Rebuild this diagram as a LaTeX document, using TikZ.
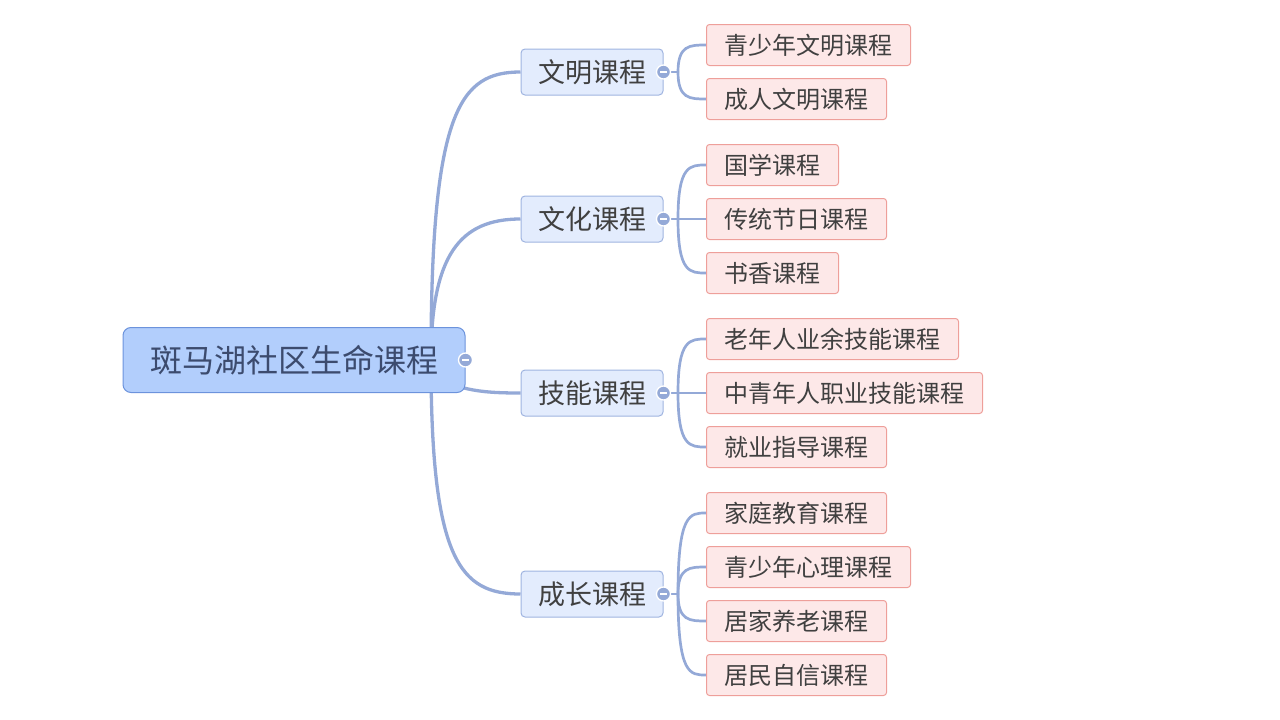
\documentclass[tikz,border=0pt]{standalone}
\usepackage{fontspec}
\setmainfont{Noto Sans CJK SC}
\usetikzlibrary{backgrounds}
\definecolor{rootfill}{HTML}{B2CEFC}
\definecolor{rootline}{HTML}{6C93DC}
\definecolor{roottext}{HTML}{3C4B6E}
\definecolor{brfill}{HTML}{E3ECFD}
\definecolor{brline}{HTML}{9FB4E0}
\definecolor{lffill}{HTML}{FDE8E8}
\definecolor{lfline}{HTML}{EE9F9A}
\definecolor{txt}{HTML}{404040}
\definecolor{conn}{HTML}{94A9D7}
\begin{document}
\begin{tikzpicture}[x=1pt,y=-1pt,
  rootbox/.style={draw=rootline,fill=rootfill,line width=1pt,rounded corners=8pt,
    minimum width=342pt,minimum height=65pt,inner sep=0pt,text=roottext,
    font=\fontsize{32}{36}\selectfont},
  brbox/.style={draw=brline,fill=brfill,line width=1pt,rounded corners=4pt,
    minimum height=46pt,minimum width=142pt,inner sep=0pt,text=txt,
    font=\fontsize{27}{31}\selectfont},
  lfbox/.style={draw=lfline,fill=lffill,line width=1pt,rounded corners=3pt,
    minimum height=41pt,inner sep=0pt,text=txt,anchor=west,
    font=\fontsize{24}{28}\selectfont},
  link/.style={draw=conn,line width=3.3pt},
  sublink/.style={draw=conn,line width=2.7pt},
  fold/.style={circle,fill=conn,draw=white,line width=1.3pt,minimum size=14pt,inner sep=0pt,
    path picture={\draw[white,line width=1.8pt] ([xshift=-3.4pt]path picture bounding box.center) -- ([xshift=3.4pt]path picture bounding box.center);}}
]
\useasboundingbox (0,0) rectangle (1280,720);

% nodes
\node[rootbox] (root) at (294,360) {斑马湖社区生命课程};
\node[brbox] (b1) at (592,72) {文明课程};
\node[brbox] (b2) at (592,219) {文化课程};
\node[brbox] (b3) at (592,393) {技能课程};
\node[brbox] (b4) at (592,594) {成长课程};

\node[lfbox,minimum width=204pt] (l11) at (706,45) {青少年文明课程};
\node[lfbox,minimum width=180pt] (l12) at (706,99) {成人文明课程};
\node[lfbox,minimum width=132pt] (l21) at (706,165) {国学课程};
\node[lfbox,minimum width=180pt] (l22) at (706,219) {传统节日课程};
\node[lfbox,minimum width=132pt] (l23) at (706,273) {书香课程};
\node[lfbox,minimum width=252pt] (l31) at (706,339) {老年人业余技能课程};
\node[lfbox,minimum width=276pt] (l32) at (706,393) {中青年人职业技能课程};
\node[lfbox,minimum width=180pt] (l33) at (706,447) {就业指导课程};
\node[lfbox,minimum width=180pt] (l41) at (706,513) {家庭教育课程};
\node[lfbox,minimum width=204pt] (l42) at (706,567) {青少年心理课程};
\node[lfbox,minimum width=180pt] (l43) at (706,621) {居家养老课程};
\node[lfbox,minimum width=180pt] (l44) at (706,675) {居民自信课程};

\coordinate (rc) at (431,360);
\coordinate (rc3) at (431,372);
\coordinate (j1) at (678,72);
\coordinate (j2) at (678,219);
\coordinate (j3) at (678,393);
\coordinate (j4) at (678,594);

\begin{scope}[on background layer]
\path[link] (rc) .. controls (431,110) and (460,72) .. (b1.west);
\path[link] (rc) .. controls (431,255) and (460,219) .. (b2.west);
\path[link] (rc3) .. controls (455,392) and (490,393) .. (b3.west);
\path[link] (rc) .. controls (431,560) and (460,594) .. (b4.west);

\path[sublink] (b1.east) -- (j1);
\path[sublink] (j1) .. controls (678,45) and (690,45) .. (l11.west);
\path[sublink] (j1) .. controls (678,99) and (690,99) .. (l12.west);
\path[sublink] (b2.east) -- (j2);
\path[sublink] (j2) .. controls (678,165) and (690,165) .. (l21.west);
\path[sublink] (j2) -- (l22.west);
\path[sublink] (j2) .. controls (678,273) and (690,273) .. (l23.west);
\path[sublink] (b3.east) -- (j3);
\path[sublink] (j3) .. controls (678,339) and (690,339) .. (l31.west);
\path[sublink] (j3) -- (l32.west);
\path[sublink] (j3) .. controls (678,447) and (690,447) .. (l33.west);
\path[sublink] (b4.east) -- (j4);
\path[sublink] (j4) .. controls (678,513) and (690,513) .. (l41.west);
\path[sublink] (j4) .. controls (678,567) and (690,567) .. (l42.west);
\path[sublink] (j4) .. controls (678,621) and (690,621) .. (l43.west);
\path[sublink] (j4) .. controls (678,675) and (690,675) .. (l44.west);
\end{scope}

\node[fold] (f0) at (root.east) {};
\node[fold] (f1) at (b1.east) {};
\node[fold] (f2) at (b2.east) {};
\node[fold] (f3) at (b3.east) {};
\node[fold] (f4) at (b4.east) {};
\end{tikzpicture}
\end{document}
